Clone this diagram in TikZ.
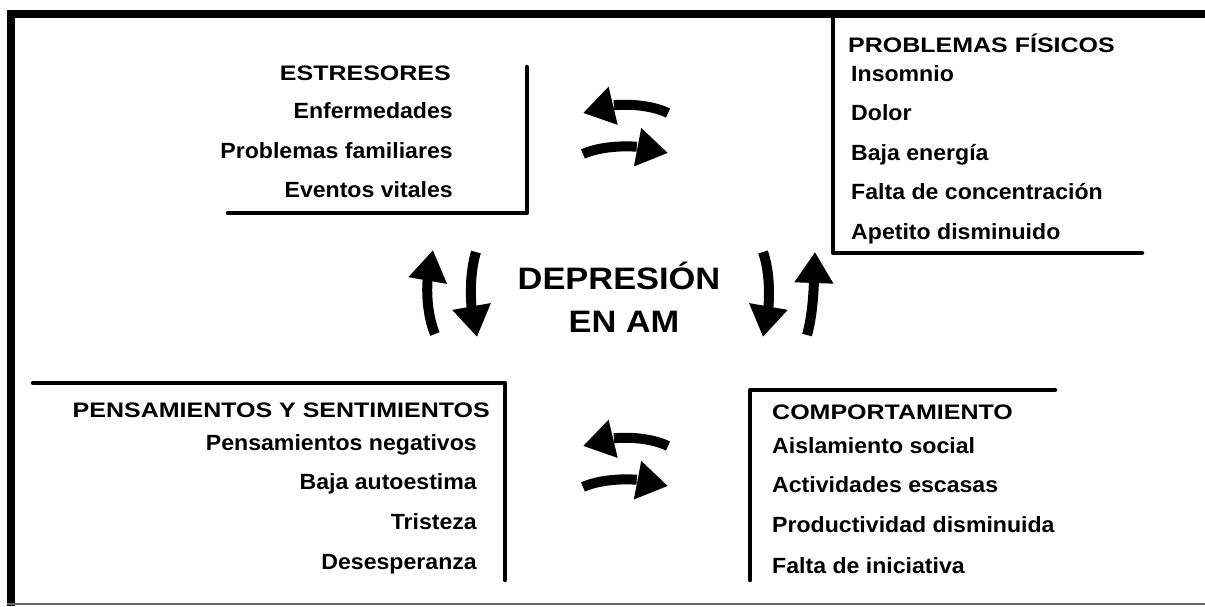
\documentclass[tikz,border=0pt]{standalone}
\usepackage{fontspec}
\setmainfont{Liberation Sans}
\usetikzlibrary{arrows.meta, bending}

\tikzset{
  frame/.style={line width=8pt},
  boxline/.style={line width=4.5pt, line cap=round, line join=round},
  head/.style={font=\fontsize{21}{25}\selectfont\bfseries, inner sep=0pt, xscale=1.19},
  item/.style={font=\fontsize{22}{26}\selectfont\bfseries, inner sep=0pt, xscale=1.05},
  big/.style={font=\fontsize{31}{37}\selectfont\bfseries, inner sep=0pt, xscale=1.11},
  bigarrow/.style={line width=10pt, -{Triangle[length=31pt,width=37pt]}},
}

\begin{document}
\begin{tikzpicture}[x=1pt, y=-1pt]
	\useasboundingbox (0,0) rectangle (1205,606);
	
	% marco exterior
	\draw[frame] (11,606) -- (11,14) -- (1205,14);
	\draw[line width=1.5pt, black!60] (7,604) -- (1205,604);
	
	% estresores
	\node[head, anchor=base east] (estr) at (451,80) {ESTRESORES};
	\node[item, anchor=base east] (estr1) at (453,118) {Enfermedades};
	\node[item, anchor=base east] (estr2) at (453,158) {Problemas familiares};
	\node[item, anchor=base east] (estr3) at (453,197) {Eventos vitales};
	\draw[boxline] (527,67) -- (527,213) -- (228,213);
	
	% problemas fisicos
	\node[head, anchor=base west] (fis) at (848,52) {PROBLEMAS FÍSICOS};
	\node[item, anchor=base west] (fis1) at (851,81) {Insomnio};
	\node[item, anchor=base west] (fis2) at (851,120) {Dolor};
	\node[item, anchor=base west] (fis3) at (851,160) {Baja energía};
	\node[item, anchor=base west] (fis4) at (851,199) {Falta de concentración};
	\node[item, anchor=base west] (fis5) at (851,239) {Apetito disminuido};
	\draw[boxline] (833,18) -- (833,253) -- (1142,253);
	
	% pensamientos
	\node[head, anchor=base east] (pens) at (490,417) {PENSAMIENTOS Y SENTIMIENTOS};
	\node[item, anchor=base east] (pens1) at (477,450) {Pensamientos negativos};
	\node[item, anchor=base east] (pens2) at (477,489) {Baja autoestima};
	\node[item, anchor=base east] (pens3) at (477,529) {Tristeza};
	\node[item, anchor=base east] (pens4) at (477,569) {Desesperanza};
	\draw[boxline] (33,383) -- (505,383) -- (505,580);
	
	% comportamiento
	\node[head, anchor=base west] (comp) at (772,419) {COMPORTAMIENTO};
	\node[item, anchor=base west] (comp1) at (772,453) {Aislamiento social};
	\node[item, anchor=base west] (comp2) at (772,492) {Actividades escasas};
	\node[item, anchor=base west] (comp3) at (772,532) {Productividad disminuida};
	\node[item, anchor=base west] (comp4) at (772,573) {Falta de iniciativa};
	\draw[boxline] (1055,390) -- (750,390) -- (750,580);
	
	% centro
	\node[big, anchor=base] (dep) at (619,289) {DEPRESIÓN};
	\node[big, anchor=base] (enam) at (624,332) {EN AM};
	
	% flechas
	\coordinate (a1) at (668,113); \coordinate (b1) at (583,113);
	\coordinate (a2) at (583,154); \coordinate (b2) at (668,153);
	\coordinate (a3) at (668,446); \coordinate (b3) at (583,446);
	\coordinate (a4) at (583,487); \coordinate (b4) at (668,486);
	\coordinate (a5) at (435,334); \coordinate (b5) at (433,250);
	\coordinate (a6) at (476,252); \coordinate (b6) at (477,337);
	\coordinate (a7) at (763,252); \coordinate (b7) at (763,337);
	\coordinate (a8) at (807,335); \coordinate (b8) at (815,252);
	
	\draw[bigarrow] (a1) .. controls (645,102) and (605,102) .. (b1);
	\draw[bigarrow] (a2) .. controls (605,144) and (645,144) .. (b2);
	\draw[bigarrow] (a3) .. controls (645,435) and (605,435) .. (b3);
	\draw[bigarrow] (a4) .. controls (605,477) and (645,477) .. (b4);
	\draw[bigarrow] (a5) .. controls (425,310) and (425,275) .. (b5);
	\draw[bigarrow] (a6) .. controls (469,275) and (469,310) .. (b6);
	\draw[bigarrow] (a7) .. controls (771,275) and (771,310) .. (b7);
	\draw[bigarrow] (a8) .. controls (814,310) and (814,280) .. (b8);
\end{tikzpicture}
\end{document}
